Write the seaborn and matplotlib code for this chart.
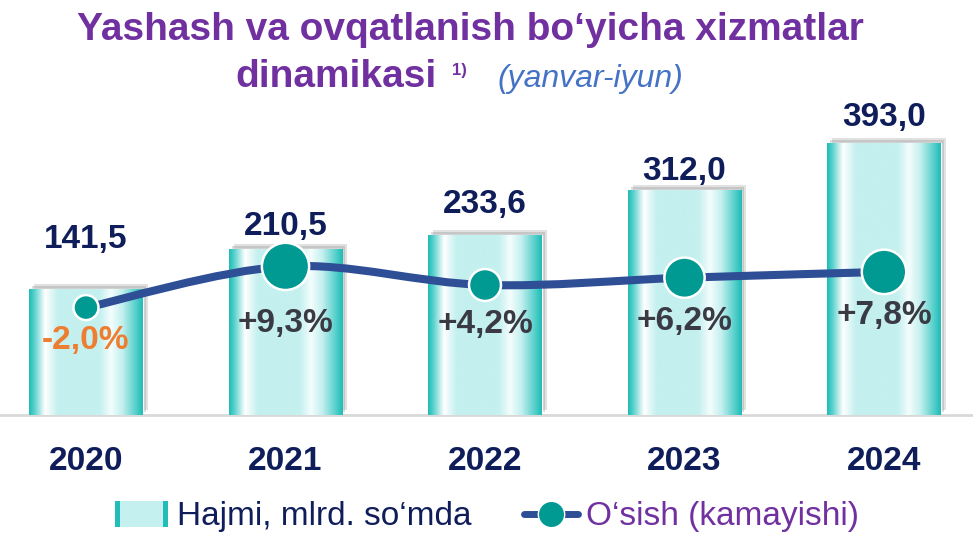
import numpy as np
import seaborn as sns
import matplotlib.pyplot as plt
from matplotlib.colors import LinearSegmentedColormap
from matplotlib.lines import Line2D
from matplotlib.patches import Patch, Rectangle, PathPatch
from matplotlib.path import Path
from matplotlib.legend_handler import HandlerBase
import matplotlib.transforms as mtransforms

years = ['2020', '2021', '2022', '2023', '2024']
volume = [141.5, 210.5, 233.6, 312.0, 393.0]
volume_labels = ['141,5', '210,5', '233,6', '312,0', '393,0']
growth = [-2.0, 9.3, 4.2, 6.2, 7.8]
growth_labels = ['-2,0%', '+9,3%', '+4,2%', '+6,2%', '+7,8%']

title_1 = 'Yashash va ovqatlanish bo\u2018yicha xizmatlar'
title_2 = 'dinamikasi'
title_note = '1)'
title_period = '(yanvar-iyun)'
legend_bar = 'Hajmi, mlrd. so\u2018mda'
legend_line = 'O\u2018sish (kamayishi)'

# styles
PURPLE = '#7030A0'
NAVY = '#0F1E5A'
LINE_BLUE = '#2E4E96'
TEAL = '#009A93'
ORANGE = '#ED7D31'
GREY_TXT = '#3A3A44'
LIGHT = '#C4F0EF'
EDGE = '#22BDB8'
marker_pt = [18, 34, 23, 29, 32]
value_offset_px = [34, 7, 15, 3, 10]
pct_offset_px = [33, 57, 40, 44, 44]


class BarHandler(HandlerBase):
    def create_artists(self, legend, orig, xd, yd, width, height, fontsize, trans):
        e = width * 0.1
        arts = [Rectangle((xd, yd - 1), e, height + 2, facecolor=EDGE, edgecolor='none'),
                Rectangle((xd + e, yd - 1), width - 2 * e, height + 2, facecolor=LIGHT, edgecolor='none'),
                Rectangle((xd + width - e, yd - 1), e, height + 2, facecolor=EDGE, edgecolor='none')]
        for a in arts:
            a.set_transform(trans)
        return arts


sns.set_theme(style='white')
plt.rcParams['font.family'] = ['Liberation Sans', 'DejaVu Sans']

fig = plt.figure(figsize=(9.73, 5.38), dpi=100)
ax = fig.add_axes([0, 123 / 538, 1, 315 / 538])

floor = -74.5
x = np.arange(len(years))
sns.barplot(x=years, y=volume, ax=ax, color=LIGHT, width=0.57, saturation=1, zorder=2)

grad_cmap = LinearSegmentedColormap.from_list('bar', [
    (0.0, '#1FBCB7'), (0.05, '#5FD3CF'), (0.14, '#FFFFFF'), (0.25, LIGHT),
    (0.62, LIGHT), (0.72, '#F4FDFD'), (0.82, LIGHT), (0.93, '#5ED2CE'),
    (1.0, '#1FBCB7')])
grad = np.linspace(0, 1, 256).reshape(1, -1)

shadow_a = mtransforms.offset_copy(ax.transData, fig=fig, x=5, y=5, units='dots')
shadow_b = mtransforms.offset_copy(ax.transData, fig=fig, x=3, y=3, units='dots')
for p in ax.patches:
    p.set_y(floor)
    p.set_height(p.get_height() - floor)
    x0, w, h = p.get_x(), p.get_width(), p.get_height()
    for tr, al in [(shadow_a, 0.25), (shadow_b, 0.3)]:
        ax.add_patch(Rectangle((x0, floor), w, h, transform=tr, facecolor='#8A8A8A',
                               alpha=al, edgecolor='none', zorder=1))
    im = ax.imshow(grad, cmap=grad_cmap, aspect='auto', extent=[x0, x0 + w, floor, floor + h],
                   zorder=3, interpolation='bicubic')
    im.set_clip_path(p)
ax.set_xlim(-0.431, 4.446)
ax.set_ylim(floor, 466)

for i, v in enumerate(volume):
    ax.annotate(volume_labels[i], (i, v), xytext=(0, value_offset_px[i] * 0.72),
                textcoords='offset points', ha='center', va='bottom',
                fontsize=24, fontweight='bold', color=NAVY, zorder=6)

ax.set_xticks(x)
ax.set_xticklabels(years, fontsize=24, fontweight='bold', color=NAVY)
ax.tick_params(axis='x', length=0, pad=22)
ax.set_yticks([])
ax.set_xlabel('')
ax.set_ylabel('')
for s in ['top', 'left', 'right']:
    ax.spines[s].set_visible(False)
ax.spines['bottom'].set_color('#D9D9D9')
ax.spines['bottom'].set_linewidth(2)

ax2 = ax.twinx()
ax2.set_ylim(-31.5, 55)
ax2.set_xlim(-0.431, 4.446)

# smoothed connecting line (like a "smoothed line" office chart)
pts = np.column_stack([x, growth]).astype(float)
ext = np.vstack([pts[0], pts, pts[-1]])
verts = [pts[0]]
codes = [Path.MOVETO]
for i in range(len(pts) - 1):
    c1 = ext[i + 1] + (ext[i + 2] - ext[i]) / 6
    c2 = ext[i + 2] - (ext[i + 3] - ext[i + 1]) / 6
    verts += [c1, c2, ext[i + 2]]
    codes += [Path.CURVE4] * 3
ax2.add_patch(PathPatch(Path(verts, codes), transform=ax2.transData, facecolor='none',
                        edgecolor=LINE_BLUE, linewidth=5.8, capstyle='round', zorder=4))
sns.scatterplot(x=x, y=growth, ax=ax2, s=np.array(marker_pt) ** 2, color=TEAL,
                edgecolor='white', linewidth=1.8, zorder=5, legend=False)
ax2.set_yticks([])
ax2.set_ylabel('')
for s in ax2.spines.values():
    s.set_visible(False)

for i, g in enumerate(growth):
    ax2.annotate(growth_labels[i], (i, g), xytext=(0, -pct_offset_px[i] * 0.72),
                 textcoords='offset points', ha='center', va='center',
                 fontsize=24, fontweight='bold', color=ORANGE if g < 0 else GREY_TXT, zorder=6)

# title
fig.text(470 / 973, 1 - 30 / 538, title_1, ha='center', va='center', fontsize=28,
         fontweight='bold', color=PURPLE)
fig.text(437 / 973, 1 - 77 / 538, title_2, ha='right', va='center', fontsize=28,
         fontweight='bold', color=PURPLE)
fig.text(452 / 973, 1 - 70 / 538, title_note, ha='left', va='center', fontsize=12,
         fontweight='bold', color=PURPLE)
fig.text(497 / 973, 1 - 79 / 538, title_period, ha='left', va='center', fontsize=23,
         style='italic', color='#4472C4')

handles = [
    Patch(facecolor=LIGHT),
    Line2D([0], [0], color=LINE_BLUE, linewidth=5, marker='o', markersize=19,
           markerfacecolor=TEAL, markeredgecolor='white'),
]
leg = fig.legend(handles, [legend_bar, legend_line], loc='center', ncol=2,
                 bbox_to_anchor=(487 / 973, 1 - 517 / 538), frameon=False,
                 fontsize=24, handlelength=1.6, handletextpad=0.25, columnspacing=1.6,
                 handler_map={Patch: BarHandler()})
leg.get_texts()[0].set_color(NAVY)
leg.get_texts()[1].set_color(PURPLE)

fig.savefig('out.png', dpi=100)
